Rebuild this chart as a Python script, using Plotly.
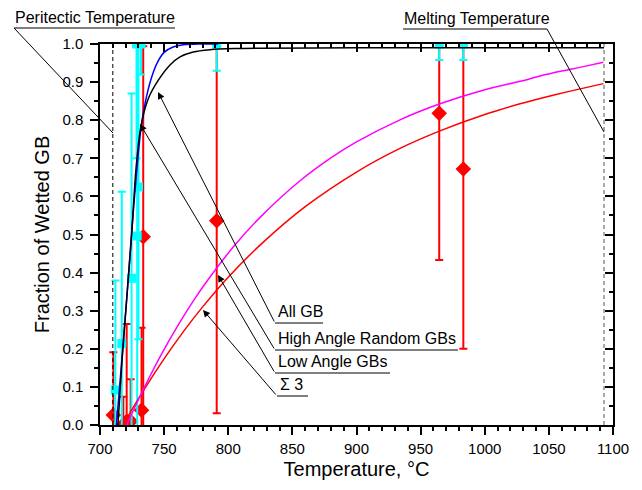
import plotly.graph_objects as go

# ---- fitted wetting curves (temperature in °C, fraction of wetted GB) ----
all_T = [714.0, 717.0, 720.8, 724.7, 728.0, 731.7, 737.7, 745.5, 754.6, 762.4,
         772.7, 785.8, 805.0, 825.0, 900.0, 1000.0, 1093.0]
all_F = [0.0, 0.16, 0.33, 0.50, 0.67, 0.78, 0.857, 0.905, 0.945, 0.966,
         0.979, 0.985, 0.988, 0.989, 0.99, 0.99, 0.99]

hagb_T = [712.8, 716.5, 720.8, 725.0, 729.0, 732.0, 735.5, 740.0, 744.5, 750.0,
          757.0, 765.0, 778.0, 792.0]
hagb_F = [0.0, 0.15, 0.33, 0.52, 0.68, 0.78, 0.85, 0.91, 0.95, 0.978,
          0.992, 0.998, 1.0, 1.0]

lagb_T = [720.8, 733.0, 746.8, 760.0, 775.0, 791.0, 805.0, 824.8, 856.0, 880.0,
          900.0, 933.9, 965.1, 1000.0, 1027.5, 1043.1, 1060.0, 1076.0, 1092.5]
lagb_F = [0.0, 0.088, 0.179, 0.257, 0.337, 0.412, 0.472, 0.545, 0.641, 0.701,
          0.743, 0.801, 0.843, 0.88, 0.902, 0.916, 0.929, 0.94, 0.952]

s3_T = [718.0, 730.0, 746.8, 765.0, 780.5, 800.0, 824.8, 860.0, 900.0, 933.9,
        965.1, 1000.0, 1027.5, 1043.1, 1065.0, 1092.5]
s3_F = [0.0, 0.069, 0.158, 0.245, 0.312, 0.388, 0.472, 0.573, 0.664, 0.726,
        0.772, 0.815, 0.843, 0.857, 0.875, 0.896]

# ---- measured points with error bars ----
red_T = [710.4, 718.2, 720.8, 723.9, 732.4, 733.7, 791.0, 964.5, 983.3]
red_F = [0.026, 0.0, 0.01, 0.01, 0.039, 0.494, 0.536, 0.818, 0.672]
red_E = [0.165, 0.074, 0.255, 0.11, 0.216, 0.50, 0.505, 0.385, 0.472]

cyan_T = [712.0, 717.0, 724.6, 729.0, 730.0, 728.5, 732.0, 791.0, 964.5, 983.3]
cyan_F = [0.092, 0.214, 0.385, 0.496, 0.625, 1.0, 1.0, 1.0, 1.0, 1.0]
cyan_E = [0.287, 0.398, 0.485, 0.51, 0.40, 0.30, 0.08, 0.07, 0.042, 0.042]

# ---- reference temperatures ----
PERITECTIC_T = 710.0
MELTING_T = 1093.0

labels = ["All GB", "High Angle Random GBs", "Low Angle GBs", "\u03a3 3"]

FONT = "Liberation Sans, Arial, sans-serif"

# plot area in page pixels
L, R, T, B = 100, 613, 44, 425


def P(px, py):
    """page pixel -> paper coordinates"""
    return (px - L) / (R - L), (B - py) / (B - T)


fig = go.Figure()

fig.add_trace(go.Scatter(
    x=red_T, y=red_F, mode="markers",
    marker=dict(symbol="diamond", size=12, color="#FF0000", line=dict(width=0)),
    error_y=dict(type="data", array=red_E, color="#FF0000", thickness=2, width=4),
    showlegend=False, hoverinfo="skip"))

fig.add_trace(go.Scatter(
    x=cyan_T, y=cyan_F, mode="markers",
    marker=dict(symbol="square", size=9, color="#00FFFF", line=dict(width=0)),
    error_y=dict(type="data", array=cyan_E, color="#00FFFF", thickness=2, width=4),
    showlegend=False, hoverinfo="skip"))

for xs, ys, col in [(s3_T, s3_F, "#FF0000"), (lagb_T, lagb_F, "#FF00FF"),
                    (hagb_T, hagb_F, "#0000FF"), (all_T, all_F, "#000000")]:
    fig.add_trace(go.Scatter(x=xs, y=ys, mode="lines",
                             line=dict(color=col, width=1.5, shape="spline", smoothing=0.8),
                             showlegend=False, hoverinfo="skip"))

fig.add_trace(go.Scatter(x=[PERITECTIC_T, PERITECTIC_T], y=[0, 1], mode="lines",
                         line=dict(color="black", width=1, dash="4px,3px"),
                         showlegend=False, hoverinfo="skip"))
fig.add_trace(go.Scatter(x=[MELTING_T, MELTING_T], y=[0, 1], mode="lines",
                         line=dict(color="#555555", width=1, dash="4px,3px"),
                         showlegend=False, hoverinfo="skip"))

# empty trace so the mirrored top/right axes get their own subplot
fig.add_trace(go.Scatter(x=[], y=[], xaxis="x2", yaxis="y2",
                         showlegend=False, hoverinfo="skip"))

shapes = []


def seg(p0, p1):
    x0, y0 = P(*p0)
    x1, y1 = P(*p1)
    shapes.append(dict(type="line", xref="paper", yref="paper",
                       x0=x0, y0=y0, x1=x1, y1=y1,
                       line=dict(color="black", width=1)))


annotations = []


def text(px, py, s):
    x, y = P(px, py)
    annotations.append(dict(x=x, y=y, xref="paper", yref="paper", text=s,
                            showarrow=False, xanchor="left", yanchor="bottom",
                            font=dict(family=FONT, size=16, color="black")))


def arrow(tip, tail):
    x, y = P(*tip)
    annotations.append(dict(x=x, y=y, xref="paper", yref="paper", text="",
                            showarrow=True, arrowhead=2, arrowsize=1.4,
                            arrowwidth=1, arrowcolor="black",
                            ax=tail[0] - tip[0], ay=tail[1] - tip[1],
                            axref="pixel", ayref="pixel"))


# Peritectic / melting temperature callouts
text(13, 28, "Peritectic Temperature")
seg((14, 28), (175, 28))
seg((14, 28), (113, 133))
text(402, 29, "Melting Temperature")
seg((403, 29), (547, 29))
seg((547, 29), (604, 132))

# curve labels with leader arrows
tails = [(275, 323), (275, 350), (275, 373), (277, 396)]
tips = [(158, 92), (140, 124), (218, 275), (203, 310)]
ends = [323, 458, 390, 308]
for lab, tail, tip, xe in zip(labels, tails, tips, ends):
    text(tail[0] + 1, tail[1] - 1, lab)
    seg(tail, (xe, tail[1]))
    arrow(tip, tail)

axis_common = dict(showgrid=False, zeroline=False, showline=True,
                   linecolor="black", linewidth=1.5,
                   tickcolor="black", tickwidth=1.5, automargin=False)

fig.update_layout(
    width=642, height=490,
    margin=dict(l=L, r=642 - R, t=T, b=490 - B, autoexpand=False),
    plot_bgcolor="white", paper_bgcolor="white",
    font=dict(family=FONT, color="black"),
    xaxis=dict(range=[700, 1100], dtick=50, tick0=700, ticks="outside", ticklen=8,
               minor=dict(dtick=10, ticks="outside", ticklen=4, tickwidth=1.5,
                          tickcolor="black"),
               tickfont=dict(size=15), ticklabelstandoff=1,
               title=dict(text="Temperature, \u00b0C", font=dict(size=20), standoff=6),
               **axis_common),
    yaxis=dict(range=[0, 1], dtick=0.1, tick0=0, tickformat=".1f", ticks="outside",
               ticklen=8,
               minor=dict(dtick=0.05, ticks="outside", ticklen=4, tickwidth=1.5,
                          tickcolor="black"),
               tickfont=dict(size=15), ticklabelstandoff=4,
               title=dict(text="Fraction of Wetted GB", font=dict(size=20), standoff=7),
               **axis_common),
    xaxis2=dict(range=[700, 1100], overlaying="x", side="top", anchor="y2",
                dtick=50, tick0=700, ticks="inside", ticklen=8, showticklabels=False,
                minor=dict(dtick=10, ticks="inside", ticklen=4, tickwidth=1.5,
                           tickcolor="black"),
                **axis_common),
    yaxis2=dict(range=[0, 1], overlaying="y", side="right", anchor="x2",
                dtick=0.1, tick0=0, ticks="inside", ticklen=8, showticklabels=False,
                minor=dict(dtick=0.05, ticks="inside", ticklen=4, tickwidth=1.5,
                           tickcolor="black"),
                **axis_common),
    shapes=shapes,
    annotations=annotations,
)

fig.write_html("out.html")
